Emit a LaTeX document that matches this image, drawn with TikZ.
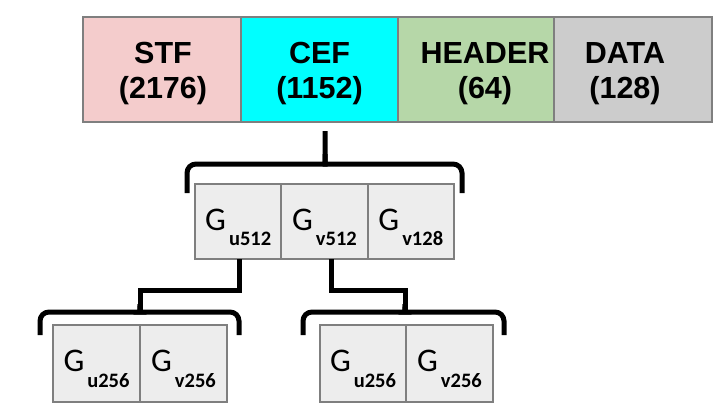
\documentclass[tikz,border=0pt]{standalone}
\usepackage{fontspec}
\setmainfont{Carlito}
\newfontfamily\fieldfont{Liberation Sans}
\usetikzlibrary{positioning}

\definecolor{stfpink}{HTML}{F4CCCC}
\definecolor{cefcyan}{HTML}{00FFFF}
\definecolor{hdrgreen}{HTML}{B6D7A8}
\definecolor{datagray}{HTML}{CCCCCC}
\definecolor{boxgray}{HTML}{EDEDED}
\definecolor{edgegray}{HTML}{7F7F7F}

% G with its subscript, lowered so that the box stays centred
\newcommand{\gterm}[1]{\raisebox{-8.5pt}[0pt][0pt]{\fontsize{33}{33}\selectfont G\kern3pt\raisebox{-15.5pt}{\fontsize{20.5}{20.5}\selectfont\bfseries #1}}}

\begin{document}
\begin{tikzpicture}[x=1pt, y=-1pt,
    cell/.style={draw=edgegray, line width=2.5pt, inner sep=0pt, outer sep=0pt, minimum height=105pt},
    fieldtext/.style={align=center, inner sep=0pt, font=\fieldfont\bfseries\fontsize{30.5}{35}\selectfont},
    gbox/.style={draw=edgegray, line width=2pt, fill=boxgray, inner sep=0pt, outer sep=0pt},
    brace/.style={line width=5pt, rounded corners=9pt},
    link/.style={line width=5pt}]
    \useasboundingbox (0,0) rectangle (718,410);

    % frame fields
    \node[cell, fill=stfpink, minimum width=158pt] (stf) at (162,69.5) {};
    \node[cell, fill=cefcyan, minimum width=157pt, right=0pt of stf] (cef) {};
    \node[cell, fill=hdrgreen, minimum width=156pt, right=0pt of cef] (hdr) {};
    \node[cell, fill=datagray, minimum width=158pt, right=0pt of hdr] (data) {};

    \node[fieldtext] (stflabel) at ([xshift=1pt, yshift=-4.5pt]stf.center) {STF\\(2176)};
    \node[fieldtext] (ceflabel) at ([yshift=-4.5pt]cef.center) {CEF\\(1152)};
    \node[fieldtext] (hdrlabel) at ([xshift=9pt, yshift=-4.5pt]hdr.center) {HEADER\\(64)};
    \node[fieldtext] (datalabel) at ([xshift=-8pt, yshift=-4.5pt]data.center) {DATA\\(128)};

    % CEF split
    \node[gbox, minimum width=86.3pt, minimum height=75pt] (gu512) at (238.2,221.7) {\gterm{u512}};
    \node[gbox, minimum width=86.3pt, minimum height=75pt, right=0pt of gu512] (gv512) {\gterm{v512}};
    \node[gbox, minimum width=86.3pt, minimum height=75pt, right=0pt of gv512] (gv128) {\gterm{v128}};

    % second level
    \node[gbox, minimum width=87pt, minimum height=77pt] (lu256) at (96.5,363.3) {\gterm{u256}};
    \node[gbox, minimum width=87pt, minimum height=77pt, right=0pt of lu256] (lv256) {\gterm{v256}};
    \node[gbox, minimum width=86.5pt, minimum height=77pt] (ru256) at (363,363.3) {\gterm{u256}};
    \node[gbox, minimum width=86.5pt, minimum height=77pt, right=0pt of ru256] (rv256) {\gterm{v256}};

    \coordinate (cefapex) at (325,131);
    \coordinate (lapex) at (140,311);
    \coordinate (rapex) at (405,311);

    % braces
    \draw[brace] (187,193) -- (187,164) -- (316,164) [sharp corners] .. controls (325,164) .. (325,154) -- (cefapex);
    \draw[brace] (325,154) .. controls (325,164) .. (334,164) [rounded corners=9pt] -- (462,164) -- (462,193);

    \draw[brace] (40,335) -- (40,312) -- (132,312) [sharp corners] .. controls (140,312) .. (140,304);
    \draw[brace] (140,304) .. controls (140,312) .. (148,312) [rounded corners=9pt] -- (239,312) -- (239,335);

    \draw[brace] (303,335) -- (303,312) -- (397,312) [sharp corners] .. controls (405,312) .. (405,304);
    \draw[brace] (405,304) .. controls (405,312) .. (413,312) [rounded corners=9pt] -- (504,312) -- (504,335);

    % links down to the braces
    \draw[link] ([xshift=1pt]gu512.south) -- ++(0,31) -| (lapex);
    \draw[link] ([xshift=7pt]gv512.south) -- ++(0,31) -| (rapex);
\end{tikzpicture}
\end{document}
